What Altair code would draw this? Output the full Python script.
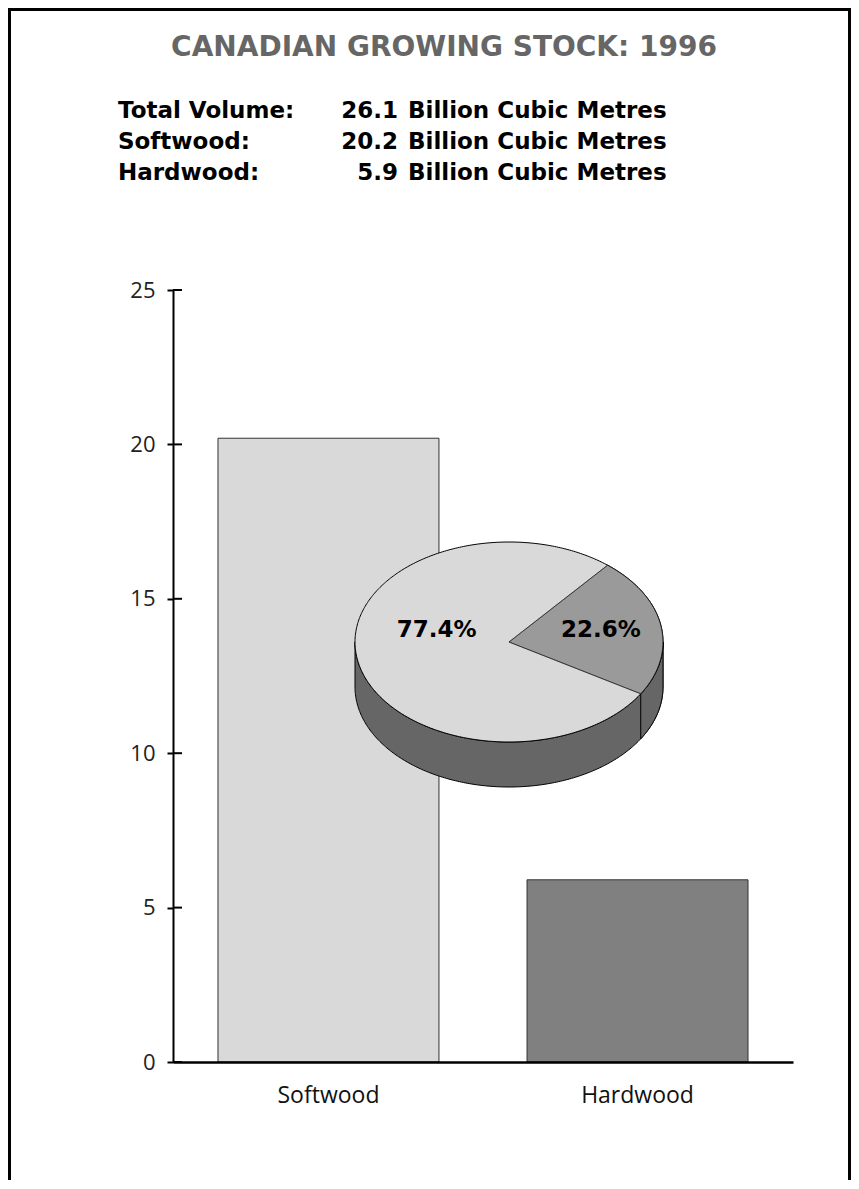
import numpy as np
import pandas as pd
import altair as alt

# ---------------- data ----------------
TITLE = "CANADIAN GROWING STOCK: 1996"
SPECIES = ["Softwood", "Hardwood"]
VOLUME = [20.2, 5.9]                      # billion cubic metres
SUMMARY_LABELS = ["Total Volume:", "Softwood:", "Hardwood:"]
SUMMARY_VALUES = [26.1, 20.2, 5.9]
UNIT_TEXT = "Billion Cubic Metres"
Y_TICKS = [0, 5, 10, 15, 20, 25]

# ---------------- layout / style ----------------
W, H = 620, 772
PAD = {"left": 165, "top": 282, "right": 58, "bottom": 118}
FONT = "DejaVu Sans"
AX_FONT = "Open Sans"
BAR_COLORS = ["#d9d9d9", "#808080"]
PIE_TOP, PIE_HARD, PIE_SIDE = "#d9d9d9", "#9a9a9a", "#666666"

# pie geometry (pixels, relative to plot area)
PIE_CX, PIE_CY = 336, 352
PIE_RX, PIE_RY, PIE_DEPTH = 154, 100, 45
HARD_END_DEG = 31.2                       # lower edge of the hardwood slice
PIE_LABEL_POS = [(-0.47, 0.12), (0.597, 0.12)]

total = sum(VOLUME)
shares = [v / total for v in VOLUME]

pie_x = alt.Scale(domain=[-PIE_CX / PIE_RX, (W - PIE_CX) / PIE_RX], nice=False, zero=False)
pie_y = alt.Scale(domain=[-(H - PIE_CY) / PIE_RY, PIE_CY / PIE_RY], nice=False, zero=False)
d = PIE_DEPTH / PIE_RY


def vbounds(px, py, xs):
    x0, y0 = px, py
    x1, y1 = np.roll(px, -1), np.roll(py, -1)
    lo = np.empty(len(xs))
    hi = np.empty(len(xs))
    for k, x in enumerate(xs):
        m = (np.minimum(x0, x1) <= x + 1e-12) & (np.maximum(x0, x1) >= x - 1e-12) & (x1 != x0)
        t = (x - x0[m]) / (x1[m] - x0[m])
        ys = y0[m] + t * (y1[m] - y0[m])
        lo[k], hi[k] = ys.min(), ys.max()
    return lo, hi


# full ellipse grid
tt = np.linspace(0, np.pi, 241)
u = -np.cos(tt)
half = np.sqrt(np.clip(1 - u ** 2, 0, None))
top_df = pd.DataFrame({"u": u, "y": half, "y2": -half})
side_df = pd.DataFrame({"u": u, "y": -half, "y2": -half - d})

# hardwood slice
tb = np.radians(HARD_END_DEG)
ta = tb - 2 * np.pi * shares[1]
arc = np.linspace(ta, tb, 240)
px = np.concatenate([[0.0], np.cos(arc)])
py = np.concatenate([[0.0], -np.sin(arc)])
xs = np.unique(np.concatenate([np.linspace(px.min(), px.max(), 400), px]))
lo, hi = vbounds(px, py, xs)
wedge_df = pd.DataFrame({"u": xs, "y": hi, "y2": lo})

# hardwood part of the visible side
ts = np.linspace(tb, 0, 60)
hs = -np.sin(ts)
hard_side_df = pd.DataFrame({"u": np.cos(ts), "y": hs, "y2": hs - d}).sort_values("u")

lbl_df = pd.DataFrame({
    "u": [p[0] for p in PIE_LABEL_POS],
    "w": [p[1] for p in PIE_LABEL_POS],
    "txt": [f"{s * 100:.1f}%" for s in shares],
})

bar_df = pd.DataFrame({"species": SPECIES, "volume": VOLUME})
tick_df = pd.DataFrame({"tick": Y_TICKS})

# ---------------- marks ----------------
bars = alt.Chart(bar_df).mark_bar(stroke="#333333", strokeWidth=1, opacity=1).encode(
    x=alt.X("species:N", sort=SPECIES,
            scale=alt.Scale(paddingInner=0.285, paddingOuter=0.1456),
            axis=alt.Axis(title=None, ticks=False, labelAngle=0, domainColor="black",
                          domainWidth=2.5, labelFont=AX_FONT, labelFontSize=23,
                          labelColor="#111111", labelPadding=22, zindex=1)),
    y=alt.Y("volume:Q", scale=alt.Scale(domain=[0, 25], nice=False),
            axis=alt.Axis(values=Y_TICKS, title=None, grid=False, domainColor="black",
                          domainWidth=2, tickColor="black", tickWidth=2, tickSize=6,
                          labelFont=AX_FONT, labelFontSize=22, labelColor="#222222",
                          labelPadding=12, zindex=1)),
    color=alt.Color("species:N", scale=alt.Scale(domain=SPECIES, range=BAR_COLORS), legend=None),
)

tick_stubs = alt.Chart(tick_df).mark_rule(color="black", strokeWidth=2).encode(
    y=alt.Y("tick:Q", scale=alt.Scale(domain=[0, 25], nice=False), axis=None),
    x=alt.value(0), x2=alt.value(9),
)


def pie_area(df, fill):
    return alt.Chart(df).mark_area(fill=fill, stroke="black", strokeWidth=1, opacity=1).encode(
        x=alt.X("u:Q", scale=pie_x, axis=None),
        y=alt.Y("y:Q", scale=pie_y, axis=None),
        y2="y2:Q",
    )


side = pie_area(side_df, PIE_SIDE)
hard_side = pie_area(hard_side_df, PIE_SIDE)
top = pie_area(top_df, PIE_TOP)
wedge = pie_area(wedge_df, PIE_HARD)

pie_labels = alt.Chart(lbl_df).mark_text(font=FONT, fontWeight="bold", fontSize=23,
                                         color="black").encode(
    x=alt.X("u:Q", scale=pie_x, axis=None),
    y=alt.Y("w:Q", scale=pie_y, axis=None),
    text="txt:N",
)

# frame
one = pd.DataFrame({"k": [0]})
full_w = W + PAD["left"] + PAD["right"]
full_h = H + PAD["top"] + PAD["bottom"]
fx0, fy0 = -PAD["left"], -PAD["top"]
fx1, fy1 = full_w - PAD["left"], full_h - PAD["top"]
frame = [
    alt.Chart(one).mark_rule(color="black", strokeWidth=3).encode(
        x=alt.value(fx0 + 1.5), y=alt.value(fy0), y2=alt.value(fy1)),
    alt.Chart(one).mark_rule(color="black", strokeWidth=3).encode(
        x=alt.value(fx1 - 1.5), y=alt.value(fy0), y2=alt.value(fy1)),
    alt.Chart(one).mark_rule(color="black", strokeWidth=3).encode(
        y=alt.value(fy0 + 1.5), x=alt.value(fx0), x2=alt.value(fx1)),
]

title = alt.Chart(pd.DataFrame({"t": [TITLE]})).mark_text(
    font=FONT, fontWeight="bold", fontSize=28, color="#666666", align="center", baseline="middle"
).encode(text="t:N", x=alt.value(271), y=alt.value(-242))

ROW_Y0, ROW_DY = -179, 31
info = []
for i, (lab, val) in enumerate(zip(SUMMARY_LABELS, SUMMARY_VALUES)):
    row = pd.DataFrame({"lab": [lab], "val": [f"{val:.1f}"], "unit": [UNIT_TEXT]})
    y = ROW_Y0 + i * ROW_DY
    base = alt.Chart(row)
    info.append(base.mark_text(font=FONT, fontWeight="bold", fontSize=23, color="black",
                               baseline="middle", align="left")
                .encode(text="lab:N", x=alt.value(-55), y=alt.value(y)))
    info.append(base.mark_text(font=FONT, fontWeight="bold", fontSize=23, color="black",
                               baseline="middle", align="right")
                .encode(text="val:N", x=alt.value(225), y=alt.value(y)))
    info.append(base.mark_text(font=FONT, fontWeight="bold", fontSize=23, color="black",
                               baseline="middle", align="left")
                .encode(text="unit:N", x=alt.value(235), y=alt.value(y)))

chart = alt.layer(
    bars, tick_stubs, side, hard_side, top, wedge, pie_labels, title, *info, *frame
).resolve_scale(
    x="independent", y="independent", color="independent"
).properties(
    width=W, height=H,
    autosize=alt.AutoSizeParams(type="none"),
    padding=PAD,
    background="white",
).configure_view(strokeWidth=0)

chart.save("out.html", embed_options={"renderer": "svg", "actions": False})
